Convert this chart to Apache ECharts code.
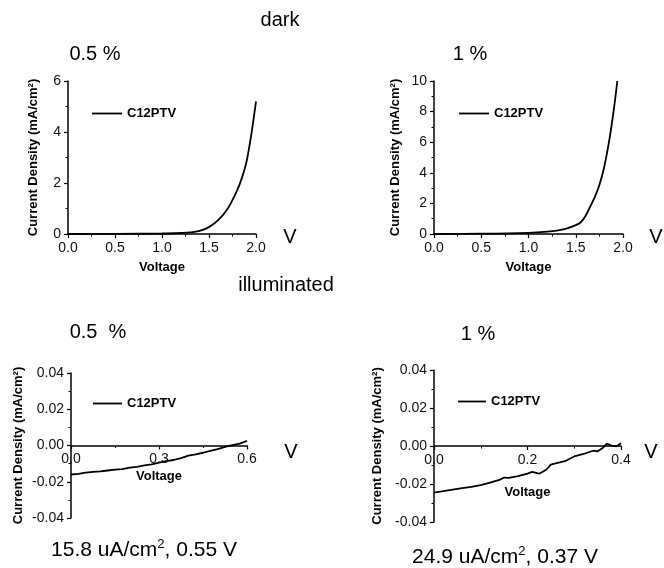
<!DOCTYPE html>
<html>
<head>
<meta charset="utf-8">
<script src="https://cdn.jsdelivr.net/npm/echarts@6/dist/echarts.min.js"></script>
<style>
html, body { margin: 0; padding: 0; background: #fff; }
#chartBox { width: 664px; height: 568px; }
</style>
</head>
<body>
<div id="chartBox"></div>
<script>
// dark, 0.5 %
var darkV1 = [0, 0.5, 1.0, 1.2, 1.3, 1.4, 1.5, 1.6, 1.7, 1.8, 1.85, 1.9, 1.95, 2.0];
var darkJ1 = [0, 0.005, 0.02, 0.04, 0.06, 0.12, 0.27, 0.55, 1.0, 1.72, 2.2, 2.85, 3.9, 5.2];
// dark, 1 %
var darkV2 = [0, 0.5, 1.0, 1.2, 1.3, 1.4, 1.5, 1.55, 1.6, 1.65, 1.7, 1.75, 1.8, 1.85, 1.9, 1.94];
var darkJ2 = [0, 0.02, 0.08, 0.15, 0.22, 0.35, 0.58, 0.75, 1.15, 1.75, 2.4, 3.2, 4.35, 5.95, 8.0, 10];
// illuminated, 0.5 %
var illV1 = [0, 0.025, 0.05, 0.075, 0.1, 0.125, 0.15, 0.175, 0.2, 0.225, 0.25, 0.275, 0.3,
             0.325, 0.35, 0.375, 0.4, 0.425, 0.45, 0.475, 0.5, 0.525, 0.55, 0.575, 0.6];
var illJ1 = [-0.0160, -0.0157, -0.0150, -0.0146, -0.0143, -0.0138, -0.0133, -0.0130, -0.0122,
             -0.0118, -0.0110, -0.0104, -0.0094, -0.0086, -0.0080, -0.0070, -0.0056, -0.0049,
             -0.0040, -0.0030, -0.0020, -0.0008, 0.0002, 0.0010, 0.0025];
// illuminated, 1 %
var illV2 = [0, 0.02, 0.04, 0.06, 0.08, 0.1, 0.12, 0.14, 0.15, 0.16, 0.18, 0.2, 0.21, 0.225,
             0.24, 0.25, 0.26, 0.28, 0.3, 0.32, 0.34, 0.35, 0.36, 0.37, 0.38, 0.39, 0.4];
var illJ2 = [-0.0245, -0.0238, -0.0230, -0.0222, -0.0215, -0.0206, -0.0193, -0.0178, -0.0166,
             -0.0168, -0.0158, -0.0145, -0.0136, -0.0146, -0.0125, -0.0098, -0.0092, -0.0080,
             -0.0055, -0.0042, -0.0025, -0.0028, -0.0012, 0.0012, 0.0002, -0.0002, 0.0015];

var xTicks = [0.5, 0.5, 0.3, 0.2];
var xMax = [2, 2, 0.6, 0.4];
var yMin = [0, 0, -0.04, -0.04];
var yMax = [6, 10, 0.04, 0.04];
var yTicks = [2, 2, 0.02, 0.02];

var fam = 'Liberation Sans, Arial, sans-serif';

function zip(a, b) {
    var out = [];
    for (var i = 0; i < a.length; i++) {
        out.push([a[i], b[i]]);
    }
    return out;
}

var grids = [
    {left: 68, top: 81, width: 188, height: 153},
    {left: 434, top: 81, width: 189, height: 153},
    {left: 71, top: 373, width: 176, height: 145},
    {left: 434, top: 370, width: 187, height: 152}
];

var xAxes = [], yAxes = [];
var xNameGap = [27, 27, 24, 40];
var xOffset = [0, 0, -72.5, -76];
var yNameGap = [28, 32, 46, 50];
for (var g = 0; g < 4; g++) {
    var top = g < 2;
    xAxes.push({
        type: 'value', gridIndex: g, min: 0, max: xMax[g], interval: xTicks[g],
        position: 'bottom', offset: xOffset[g],
        name: 'Voltage', nameLocation: 'middle', nameGap: xNameGap[g],
        nameTextStyle: {fontFamily: fam, fontWeight: 'bold', fontSize: top ? 13 : 12, color: '#000'},
        axisLine: {onZero: false, lineStyle: {color: '#000', width: 1.5}},
        axisTick: {inside: !top, length: 4, lineStyle: {color: '#000', width: 1.2}},
        minorTick: {show: true, splitNumber: 2, length: 2.5, lineStyle: {color: '#000', width: 1}},
        splitLine: {show: false},
        axisLabel: {
            fontFamily: fam, fontSize: top ? 14 : 13, color: '#111', margin: 7,
            formatter: function (v) { return v.toFixed(1); }
        }
    });
    yAxes.push({
        type: 'value', gridIndex: g, min: yMin[g], max: yMax[g], interval: yTicks[g],
        name: 'Current Density (mA/cm²)', nameLocation: 'middle', nameGap: yNameGap[g],
        nameTextStyle: {fontFamily: fam, fontWeight: 'bold', fontSize: top ? 13 : 12, color: '#000'},
        axisLine: {onZero: false, lineStyle: {color: '#000', width: 1.5}},
        axisTick: {length: 4, lineStyle: {color: '#000', width: 1.2}},
        minorTick: {show: true, splitNumber: 2, length: 2.5, lineStyle: {color: '#000', width: 1}},
        splitLine: {show: false},
        axisLabel: {fontFamily: fam, fontSize: top ? 14 : 13, color: '#111', margin: 7}
    });
}
yAxes[0].axisLabel.formatter = function (v) { return String(v); };
yAxes[1].axisLabel.formatter = function (v) { return String(v); };
yAxes[2].axisLabel.formatter = function (v) { return v.toFixed(2); };
yAxes[3].axisLabel.formatter = function (v) { return v.toFixed(2); };

var pairs = [[darkV1, darkJ1], [darkV2, darkJ2], [illV1, illJ1], [illV2, illJ2]];
var series = [];
for (var s = 0; s < 4; s++) {
    series.push({
        name: 'C12PTV', type: 'line', xAxisIndex: s, yAxisIndex: s,
        data: zip(pairs[s][0], pairs[s][1]),
        smooth: s < 2 ? 0.35 : false, symbol: 'none',
        lineStyle: {color: '#000', width: 1.8},
        itemStyle: {color: '#000'}
    });
}

var legendPos = [[87, 102, 30], [454, 102, 30], [88, 392, 29], [453, 390, 28]];
var legends = legendPos.map(function (p) {
    return {
        left: p[0], top: p[1], itemWidth: p[2], itemHeight: 1.8, itemGap: 4,
        icon: 'rect',
        data: ['C12PTV'], selectedMode: false,
        itemStyle: {color: '#000'},
        textStyle: {fontFamily: fam, fontWeight: 'bold', fontSize: 13, color: '#000'}
    };
});

function label(text, x, y, size) {
    return {
        type: 'text', x: x, y: y,
        style: {text: text, font: size + 'px ' + fam, fill: '#000', align: 'center', verticalAlign: 'middle'}
    };
}
function richLabel(a, b, x, y) {
    return {
        type: 'text', x: x, y: y,
        style: {
            text: '{n|' + a + '}{s|2}{n|' + b + '}',
            align: 'center', verticalAlign: 'middle',
            rich: {
                n: {fontFamily: fam, fontSize: 21, color: '#000', lineHeight: 24},
                s: {fontFamily: fam, fontSize: 13, color: '#000', lineHeight: 13, verticalAlign: 'top'}
            }
        }
    };
}

var option = {
    backgroundColor: '#fff',
    animation: false,
    grid: grids,
    xAxis: xAxes,
    yAxis: yAxes,
    legend: legends,
    series: series,
    graphic: [
        label('dark', 280, 20, 20),
        label('illuminated', 286, 285, 20),
        label('0.5 %', 95, 54, 20),
        label('1 %', 470, 54, 20),
        label('0.5  %', 98, 332, 20),
        label('1 %', 478, 334, 20),
        label('V', 290, 237, 20),
        label('V', 656, 237, 20),
        label('V', 291, 452, 20),
        label('V', 651, 452, 20),
        richLabel('15.8 uA/cm', ', 0.55 V', 144, 550),
        richLabel('24.9 uA/cm', ', 0.37 V', 505, 557)
    ]
};

var myChart = echarts.init(document.getElementById('chartBox'));
myChart.setOption(option);
</script>
</body>
</html>
